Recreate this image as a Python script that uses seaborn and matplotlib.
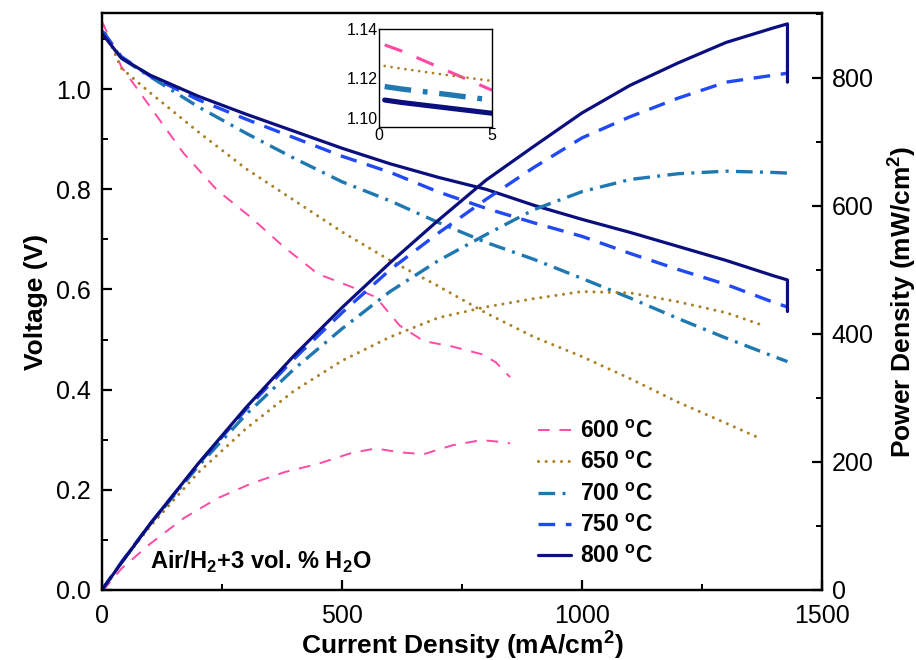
import matplotlib
matplotlib.use("Agg")
import matplotlib.pyplot as plt
import pandas as pd
import seaborn as sns
from matplotlib.ticker import MultipleLocator, FormatStrFormatter

# ---- I-V-P data, current density in mA/cm2 ----
current_600 = [0, 5, 40, 100, 170, 240, 310, 380, 450, 520, 570, 620, 670, 730, 790, 820, 850]
voltage_600 = [1.135, 1.125, 1.045, 0.965, 0.872, 0.798, 0.744, 0.684, 0.631, 0.605, 0.585,
               0.528, 0.497, 0.486, 0.471, 0.455, 0.425]
power_600 = [0, 2, 33, 72, 112, 143, 166, 184, 197, 214, 221, 215, 212, 226, 234, 232, 229]

current_650 = [0, 5, 40, 100, 200, 300, 400, 500, 600, 700, 800, 900, 1000, 1100, 1200, 1300, 1370]
voltage_650 = [1.124, 1.118, 1.042, 0.993, 0.915, 0.841, 0.778, 0.715, 0.658, 0.607, 0.553,
               0.505, 0.466, 0.422, 0.375, 0.333, 0.303]
power_650 = [0, 5.6, 42, 99, 183, 252, 311, 358, 395, 425, 442, 455, 466, 464, 450, 433, 415]

current_700 = [0, 5, 40, 100, 200, 300, 400, 500, 600, 700, 800, 900, 1000, 1100, 1200, 1300, 1400, 1428]
voltage_700 = [1.116, 1.110, 1.062, 1.025, 0.965, 0.912, 0.862, 0.815, 0.777, 0.734, 0.694,
               0.660, 0.622, 0.583, 0.542, 0.503, 0.466, 0.456]
power_700 = [0, 5.6, 42.5, 102.5, 193, 274, 345, 408, 466, 514, 555, 594, 622, 641, 650, 654, 652, 651]

current_750 = [0, 5, 40, 100, 200, 300, 400, 500, 600, 700, 800, 900, 1000, 1100, 1200, 1300, 1400, 1428]
voltage_750 = [1.115, 1.111, 1.065, 1.026, 0.979, 0.940, 0.903, 0.866, 0.834, 0.795, 0.762,
               0.733, 0.706, 0.672, 0.640, 0.610, 0.574, 0.565]
power_750 = [0, 5.6, 43, 103, 196, 282, 361, 433, 500, 557, 610, 660, 706, 739, 768, 793, 804, 807]

current_800 = [0, 5, 40, 100, 200, 300, 400, 500, 600, 700, 800, 900, 1000, 1100, 1200, 1300, 1400, 1428, 1428]
voltage_800 = [1.110, 1.105, 1.062, 1.028, 0.986, 0.950, 0.916, 0.882, 0.851, 0.824, 0.800,
               0.768, 0.740, 0.714, 0.686, 0.658, 0.627, 0.619, 0.556]
power_800 = [0, 5.5, 42, 103, 197, 285, 366, 441, 511, 577, 640, 693, 745, 788, 823, 855, 878, 884, 793]

# ---- low-current detail (inset) ----
inset_current = [0.25, 1, 2, 3, 4, 5]
inset_600 = [1.1335, 1.131, 1.127, 1.123, 1.119, 1.115]
inset_650 = [1.1249, 1.1238, 1.1225, 1.1212, 1.1200, 1.1188]
inset_700 = [1.1165, 1.1155, 1.1144, 1.1133, 1.1121, 1.1110]
inset_800 = [1.1110, 1.1100, 1.1089, 1.1078, 1.1067, 1.1056]

temp_labels = ["600", "650", "700", "750", "800"]

sns.set_theme(style="ticks")
plt.rcParams["font.family"] = ["Liberation Sans", "DejaVu Sans"]
plt.rcParams["mathtext.fontset"] = "custom"
plt.rcParams["mathtext.rm"] = "Liberation Sans"
plt.rcParams["mathtext.bf"] = "Liberation Sans:bold"
for key in ["text.color", "axes.labelcolor", "xtick.color", "ytick.color", "axes.edgecolor"]:
    plt.rcParams[key] = "black"

styles = {
    "600": dict(color="#ff4aa5", lw=1.4, linestyle=(0, (6, 5))),
    "650": dict(color="#ab8126", lw=2.2, linestyle=(0, (0.01, 2.5)), dash_capstyle="round"),
    "700": dict(color="#1f78b0", lw=2.4, linestyle=(0, (5, 2.2, 0.9, 2.2))),
    "750": dict(color="#2149f5", lw=2.4, linestyle=(0, (5, 3.2))),
    "800": dict(color="#0b0f7e", lw=2.3, linestyle="-"),
}

series = {
    "600": (current_600, voltage_600, power_600),
    "650": (current_650, voltage_650, power_650),
    "700": (current_700, voltage_700, power_700),
    "750": (current_750, voltage_750, power_750),
    "800": (current_800, voltage_800, power_800),
}

fig = plt.figure(figsize=(9.16, 6.6), dpi=100)
ax = fig.add_axes([0.1114, 0.1061, 0.786, 0.8742])
ax2 = ax.twinx()

handles = []
for t in temp_labels:
    cur, volt, pw = series[t]
    df = pd.DataFrame({"current": cur, "voltage": volt, "power": pw})
    sns.lineplot(data=df, x="current", y="voltage", ax=ax, estimator=None, sort=False,
                 legend=False, **styles[t])
    handles.append(ax.lines[-1])
    sns.lineplot(data=df, x="current", y="power", ax=ax2, estimator=None, sort=False,
                 legend=False, **styles[t])

ax.set_xlim(0, 1500)
ax.set_ylim(0, 1.152)
ax2.set_ylim(0, 901)

ax.xaxis.set_major_locator(MultipleLocator(500))
ax.xaxis.set_minor_locator(MultipleLocator(250))
ax.yaxis.set_major_locator(MultipleLocator(0.2))
ax.yaxis.set_minor_locator(MultipleLocator(0.1))
ax2.yaxis.set_major_locator(MultipleLocator(200))
ax2.yaxis.set_minor_locator(MultipleLocator(100))
ax.yaxis.set_major_formatter(FormatStrFormatter("%.1f"))

ax.tick_params(axis="both", which="major", direction="in", length=7.5, width=1.6,
               labelsize=18, pad=8, top=False, right=False)
ax.tick_params(axis="x", which="major", pad=10)
ax.tick_params(axis="both", which="minor", direction="in", length=4, width=1.4,
               top=False, right=False)
ax2.tick_params(axis="y", which="major", direction="in", length=7.5, width=1.6,
                labelsize=18, pad=7)
ax2.tick_params(axis="y", which="minor", direction="in", length=4, width=1.4)

ax.set_xlabel(r"Current Density (mA/cm$^{\mathbf{2}}$)", fontsize=19, fontweight="bold", labelpad=0)
ax.set_ylabel("Voltage (V)", fontsize=19, fontweight="bold", labelpad=6)
ax2.set_ylabel(r"Power Density (mW/cm$^{\mathbf{2}}$)", fontsize=19, fontweight="bold", labelpad=8)

for a in (ax, ax2):
    for sp in a.spines.values():
        sp.set_linewidth(1.6)
        sp.set_color("black")

ax.legend(handles, [rf"{t} $^{{\mathbf{{o}}}}$C" for t in temp_labels],
          loc="center left", bbox_to_anchor=(0.605, 0.166), frameon=False,
          prop={"size": 16.5, "weight": "bold"}, handlelength=1.45,
          labelspacing=0.36, handletextpad=0.4, borderpad=0, borderaxespad=0)

ax.text(0.066, 0.048, r"Air/H$_{\mathbf{2}}$+3 vol. % H$_{\mathbf{2}}$O", transform=ax.transAxes,
        fontsize=17, fontweight="bold", va="center", ha="left")

# inset: voltage near open circuit
axin = fig.add_axes([0.4138, 0.8076, 0.1234, 0.1485])
inset_sets = [("600", inset_600), ("650", inset_650), ("700", inset_700), ("800", inset_800)]
for t, vals in inset_sets:
    st = dict(styles[t])
    st["lw"] = st["lw"] * 1.6 if t != "650" else 2.0
    dfi = pd.DataFrame({"current": inset_current, "voltage": vals})
    sns.lineplot(data=dfi, x="current", y="voltage", ax=axin, estimator=None, sort=False,
                 legend=False, **st)
axin.set_xlim(0, 5)
axin.set_ylim(1.10, 1.14)
axin.set_xticks([0, 5])
axin.set_yticks([1.10, 1.12, 1.14])
axin.yaxis.set_major_formatter(FormatStrFormatter("%.2f"))
axin.tick_params(axis="both", direction="in", length=0, labelsize=11.5, pad=1)
axin.get_yticklabels()[0].set_va("bottom")
axin.set_xlabel("")
axin.set_ylabel("")
for sp in axin.spines.values():
    sp.set_linewidth(1.0)
    sp.set_color("black")

fig.savefig("out.png", dpi=100)
